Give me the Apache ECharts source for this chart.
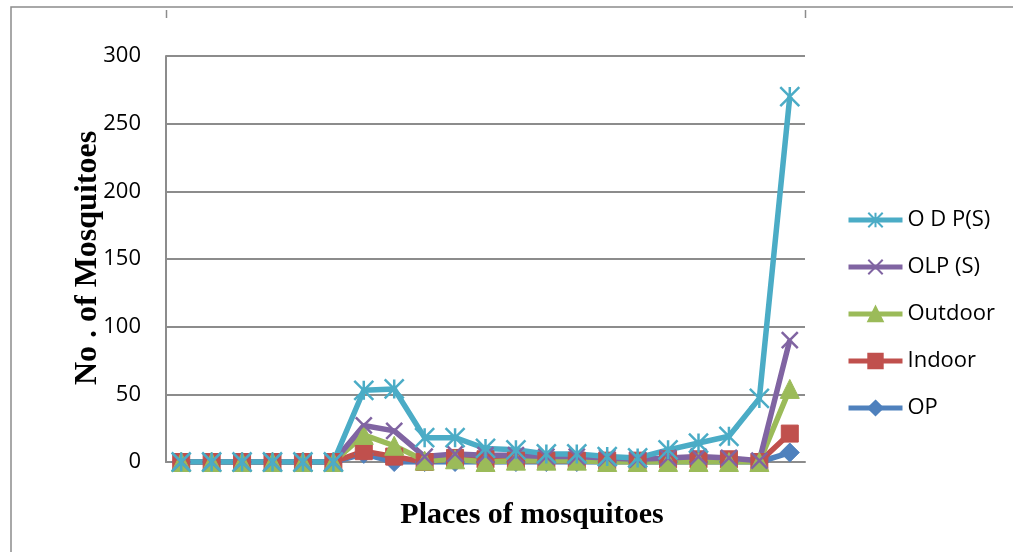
<!DOCTYPE html>
<html>
<head>
<meta charset="utf-8">
<script src="https://cdn.jsdelivr.net/npm/echarts@6/dist/echarts.min.js"></script>
<style>
html, body { margin: 0; padding: 0; background: #fff; }
#chart { width: 1013px; height: 552px; }
</style>
</head>
<body>
<div id="chart"></div>
<script>
// 21 places, no labels shown on the x axis
const places = ['1','2','3','4','5','6','7','8','9','10','11','12','13','14','15','16','17','18','19','20','21'];
const yTicks = [0, 50, 100, 150, 200, 250, 300];

const odp = [0, 0, 0, 0, 0, 0, 53, 54, 18, 18, 10, 9, 6, 6, 4, 3, 9, 14, 19, 47, 270];
const olp = [0, 0, 0, 0, 0, 0, 27, 23, 4, 6, 5, 5, 4, 4, 3, 2, 3, 4, 3, 1, 90];
const outdoor = [0, 0, 0, 0, 0, 0, 20, 12, 1, 2, 0, 1, 1, 1, 0, 0, 0, 0, 0, 0, 54];
const indoor = [0, 0, 0, 0, 0, 0, 8, 4, 0, 3, 2, 1, 1, 1, 1, 1, 2, 2, 2, 0, 21];
const op = [0, 0, 0, 0, 0, 0, 6, 0, 0, 0, 0, 0, 0, 0, 0, 0, 0, 0, 0, 0, 7];

const starPath = 'path://M5,0L5,10M0,0L10,10M10,0L0,10';
const crossPath = 'path://M0,0L10,10M10,0L0,10';
const labelFont = '"Open Sans", "Liberation Sans", sans-serif';

function line(name, data, color, symbol, size, stroked) {
	return {
		name: name,
		type: 'line',
		data: data,
		symbol: symbol,
		symbolSize: size,
		showAllSymbol: true,
		lineStyle: { color: color, width: 5.5 },
		itemStyle: stroked
			? { color: color, borderColor: color, borderWidth: 2.5 }
			: { color: color, borderColor: color, borderWidth: 1 }
	};
}

const chart = echarts.init(document.getElementById('chart'));
const option = {
	animation: false,
	backgroundColor: '#fff',
	grid: { left: 166, right: 208, top: 56, bottom: 90 },
	legend: {
		orient: 'vertical',
		left: 841,
		top: 203,
		itemWidth: 54,
		itemHeight: 18,
		itemGap: 23,
		lineStyle: { width: 5 },
		data: ['O D P(S)', 'OLP (S)', 'Outdoor', 'Indoor', 'OP'],
		textStyle: { fontFamily: labelFont, fontSize: 22, color: '#000', lineHeight: 24 }
	},
	xAxis: {
		type: 'category',
		data: places,
		boundaryGap: true,
		axisLine: { show: true, lineStyle: { color: '#8c8c8c', width: 2 } },
		axisTick: { show: false },
		axisLabel: { show: false }
	},
	yAxis: {
		type: 'value',
		min: yTicks[0],
		max: yTicks[yTicks.length - 1],
		interval: 50,
		axisLine: { show: true, lineStyle: { color: '#8c8c8c', width: 2 } },
		axisTick: { show: false },
		axisLabel: { margin: 25, fontFamily: labelFont, fontSize: 22, color: '#000' },
		splitLine: { lineStyle: { color: '#8c8c8c', width: 2 } }
	},
	graphic: [
		{ type: 'rect', shape: { x: 11, y: 7, width: 1100, height: 700 }, style: { fill: 'none', stroke: '#8c8c8c', lineWidth: 1.5 }, silent: true },
		{ type: 'line', shape: { x1: 166.5, y1: 10, x2: 166.5, y2: 18 }, style: { stroke: '#8c8c8c', lineWidth: 1.5 }, silent: true },
		{ type: 'line', shape: { x1: 805.5, y1: 10, x2: 805.5, y2: 18 }, style: { stroke: '#8c8c8c', lineWidth: 1.5 }, silent: true },
		{
			type: 'text', x: 88, y: 258, rotation: Math.PI / 2,
			style: { text: 'No . of Mosquitoes', font: 'bold 32px "Liberation Serif", serif', fill: '#000', textAlign: 'center', textVerticalAlign: 'middle' }
		},
		{
			type: 'text', x: 532, y: 515,
			style: { text: 'Places of mosquitoes', font: 'bold 30px "Liberation Serif", serif', fill: '#000', textAlign: 'center', textVerticalAlign: 'middle' }
		}
	],
	series: [
		line('OP', op, '#4F81BD', 'diamond', 19, false),
		line('Indoor', indoor, '#C0504D', 'rect', 17, false),
		line('Outdoor', outdoor, '#9BBB59', 'triangle', 19, false),
		line('OLP (S)', olp, '#8064A2', crossPath, 16, true),
		line('O D P(S)', odp, '#4BACC6', starPath, 19, true)
	]
};
chart.setOption(option);
</script>
</body>
</html>
